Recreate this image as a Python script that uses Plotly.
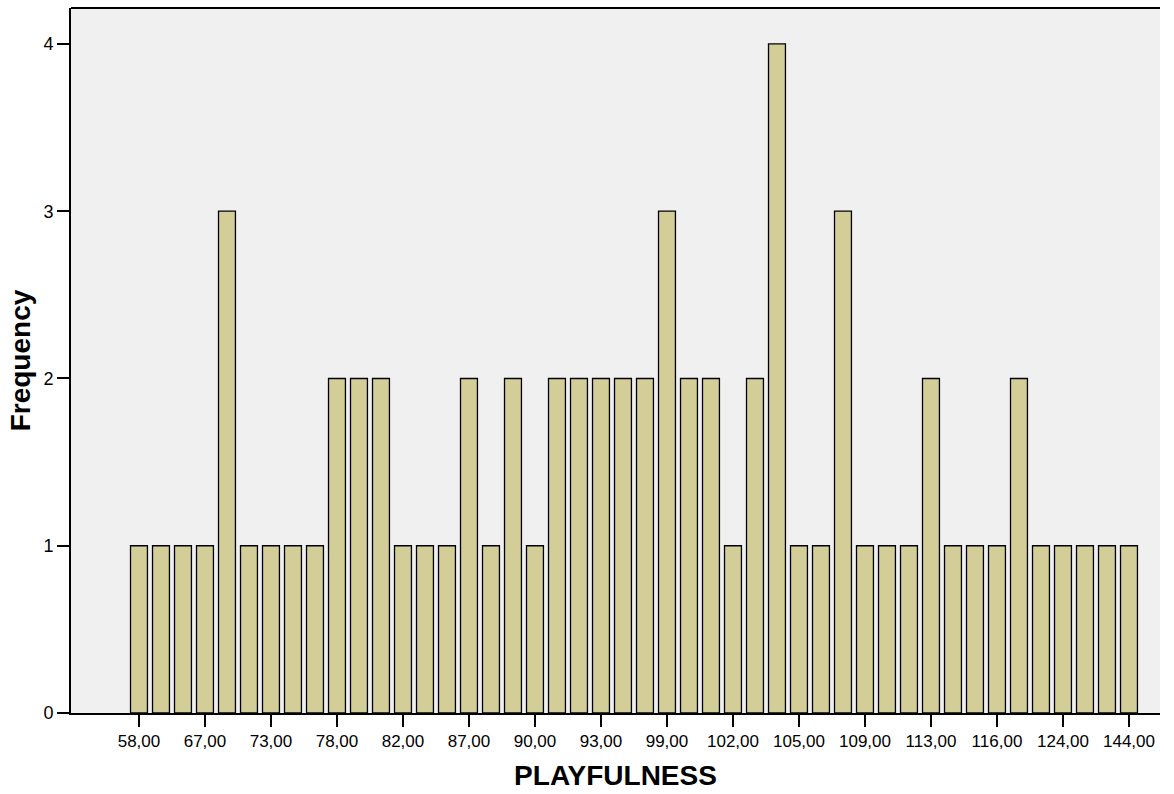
import plotly.graph_objects as go

categories = [58, 60, 63, 67, 68, 71, 73, 74, 76, 78, 79, 80, 82, 84, 85, 87,
              88, 89, 90, 91, 92, 93, 95, 97, 99, 100, 101, 102, 103, 104, 105,
              106, 108, 109, 110, 111, 113, 114, 115, 116, 118, 120, 124, 126, 130, 144]
frequency = [1, 1, 1, 1, 3, 1, 1, 1, 1, 2, 2, 2, 1, 1, 1, 2,
             1, 2, 1, 2, 2, 2, 2, 2, 3, 2, 2, 1, 2, 4, 1,
             1, 3, 1, 1, 1, 2, 1, 1, 1, 2, 1, 1, 1, 1, 1]
labeled = [58, 67, 73, 78, 82, 87, 90, 93, 99, 102, 105, 109, 113, 116, 124, 144]
y_ticks = [0, 1, 2, 3, 4]

cat_labels = [f"{c},00" for c in categories]
tick_labels = [f"{c},00" for c in labeled]

fig = go.Figure(go.Bar(
    x=cat_labels, y=frequency,
    marker=dict(color="#D3CE97", line=dict(color="black", width=1.3)),
))

fig.update_layout(
    width=1174, height=794,
    margin=dict(l=71, r=14, t=8, b=81, autoexpand=False),
    paper_bgcolor="white", plot_bgcolor="#F0F0F0",
    bargap=0.23, showlegend=False,
    font=dict(family="Liberation Sans, Arial, sans-serif", color="black"),
)
fig.update_xaxes(
    type="category", categoryorder="array", categoryarray=cat_labels,
    range=[-3.09, 46.41], automargin=False,
    tickmode="array", tickvals=tick_labels, ticktext=tick_labels,
    ticks="outside", ticklen=12, tickwidth=2, tickcolor="black",
    showline=True, linecolor="black", linewidth=2,
    showgrid=False, zeroline=False,
    tickfont=dict(size=17),
    title=dict(text="<b>PLAYFULNESS</b>", font=dict(size=28), standoff=15),
)
fig.update_yaxes(
    range=[0, 4.215], automargin=False,
    tickmode="array", tickvals=y_ticks, ticktext=[str(v) for v in y_ticks],
    ticks="outside", ticklen=12, tickwidth=2, tickcolor="black",
    showline=True, linecolor="black", linewidth=2,
    showgrid=False, zeroline=False,
    tickfont=dict(size=18),
    title=dict(text="<b>Frequency</b>", font=dict(size=28), standoff=5),
)
fig.add_shape(type="line", xref="paper", yref="paper", x0=0, x1=1, y0=1, y1=1,
              line=dict(color="black", width=2))

fig.write_html("out.html", config={"displayModeBar": False},
               post_script="document.body.style.margin='0';document.body.style.overflow='hidden';")
